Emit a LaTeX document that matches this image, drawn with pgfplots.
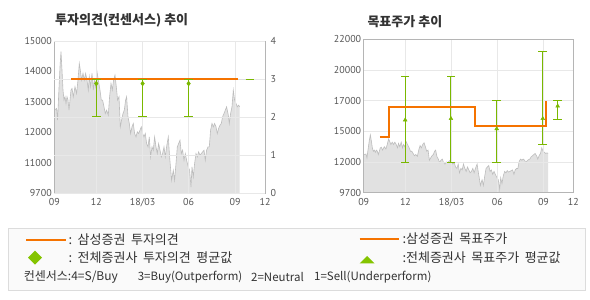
\documentclass[border=0pt]{standalone}
\usepackage{fontspec}
\setmainfont{Noto Sans CJK KR}
\newfontfamily\tickfont{PT Sans}
\usepackage{pgfplots}
\pgfplotsset{compat=1.18}
\usepackage{pgfplotstable}
\definecolor{orng}{HTML}{F57300}
\definecolor{grn}{HTML}{7AB800}
\definecolor{diamc}{HTML}{84C400}
\definecolor{framec}{HTML}{B5B5B5}
\definecolor{gridc}{HTML}{E8E8E8}
\definecolor{areaf}{HTML}{E1E1E1}
\definecolor{areal}{HTML}{BDBDBD}
\definecolor{txt}{HTML}{555555}
\definecolor{ttl}{HTML}{333333}
\definecolor{legbg}{HTML}{FAFAFA}
\definecolor{legbd}{HTML}{DCDCDC}
\definecolor{lgray}{HTML}{DDDDDD}
\newcommand\wsp{\hspace{5.5pt}}

\pgfplotstableread{
x p
0 12725
2.3 12780
3.3 12396
4.3 13165
5.7 14154
6.7 14648
7.7 14044
8.7 13385
9.7 13055
10.7 13165
11.7 12945
12.7 13165
13.7 13055
14.7 12725
15.7 13055
16.7 13385
17.7 13440
19 13165
20.7 13495
22.3 13275
23.7 13714
25 14264
26 14044
27.3 13714
28.7 13934
30 13714
31.3 13934
32.7 13714
34 13385
35 13824
36.3 13495
37.7 13934
39 13385
40 13714
41.3 13495
42.7 13989
44 13714
45.7 13385
47 13055
48.3 13055
49.7 12835
51 12615
52.3 12725
54 12560
55.3 13165
56.7 13604
58 13385
59.3 13714
60.7 13879
62 13495
63.3 13055
64.7 13165
66 12176
67.3 12396
68.7 12615
70 12725
71.3 13055
72.3 13165
73.7 12505
75 12286
76.3 11956
77.7 12176
79 12286
80.3 11956
81.7 11846
83 12011
84.3 11956
85.7 12066
87 12176
88.3 11956
89.7 11846
91 11956
92.3 11626
93.7 11516
95 11846
96.3 11187
97.7 11516
99 11407
100.3 11846
101.7 11516
103 11297
104.3 11626
105.7 11407
107 11187
108.3 11297
109.7 11516
111 11187
112.3 11516
114 11846
115.3 11187
116.3 10743
117.3 10243
119 10671
120.3 10243
121.7 10957
123 11516
124.3 11626
125.7 11736
127 11297
128.3 11407
129.7 11077
131 11297
132.3 11077
134 10814
135.3 10671
136.7 9957
137.7 10814
139 10386
140.3 10957
141.7 11297
143 11187
144.3 11352
145.7 11242
147 11297
148.3 11352
149.7 11407
151 11077
152.3 11407
153.7 11516
155 11516
156.3 12066
157.7 12286
159 12176
160.3 12286
161.7 12176
163 11956
164.3 12121
165.7 12231
167 12286
168.3 12505
169.7 12615
171 12725
172.3 12835
174 12560
175 12286
176.3 12615
177.7 12835
179 13385
180.3 13055
181.7 12945
183 12835
184.3 12890
185.3 12835
}\price

\pgfplotsset{
  frame/.style={scale only axis, anchor=south west,
    xmin=0, xmax=210.7,
    axis line style={framec, line width=0.8pt},
    major tick length=0pt,
    tick label style={font=\tickfont\fontsize{10}{11}\selectfont, color=txt},
    grid style={gridc, line width=0.8pt},
    xtick={0,42,88.3,134.3,180.7,210.7},
    xticklabels={09,12,18/03,06,09,12},
    xticklabel style={yshift=-2pt},
    yticklabel style={xshift=1pt},
  },
  lfilter/.style={y filter/.expression={y<11000 ? (y-9700)/1300 : (y-10000)/1000}},
  rfilter/.style={y filter/.expression={y<12000 ? (y-9700)/2300 : (y<15000 ? 1+(y-12000)/3000 : (y<17000 ? 2+(y-15000)/2000 : (y<20000 ? 3+(y-17000)/3000 : 4+(y-20000)/2000)))}},
  ebar/.style={grn, line width=1pt, mark=-, mark size=4.3pt, mark options={solid, grn, line width=1pt}},
}

\begin{document}
\begin{tikzpicture}[x=1pt,y=1pt]
\useasboundingbox (0,0) rectangle (590,300);
\fill[white] (0,0) rectangle (590,300);

% ---------- left chart: price ----------
\begin{axis}[frame, at={(54.3pt,107pt)}, width=210.7pt, height=152pt,
  ymin=0, ymax=5, axis on top, xmajorgrids,
  ytick={0,1,2,3,4,5}, yticklabels={9700,11000,12000,13000,14000,15000},
  lfilter]
\addplot[fill=areaf, draw=none] table[x=x,y=p]{\price} \closedcycle;
\addplot[areal, line width=0.6pt] table[x=x,y=p]{\price};
\end{axis}

% ---------- left chart: opinion ----------
\begin{axis}[frame, at={(54.3pt,107pt)}, width=210.7pt, height=152pt,
  ymin=0, ymax=4, axis x line=none, axis y line*=right,
  y axis line style={draw=none},
  ymajorgrids, ytick={0,1,2,3,4}, yticklabels={0,1,2,3,4},
  yticklabel style={xshift=1pt}]
\addplot[ebar] coordinates {(42,2) (42,3)};
\addplot[ebar] coordinates {(88.3,2) (88.3,3)};
\addplot[ebar] coordinates {(134.3,2) (134.3,3)};
\addplot[only marks, mark=diamond*, mark size=2.4pt, grn] coordinates {(42,2.88) (88.3,2.88) (134.3,2.88)};
\addplot[lgray, line width=1pt] coordinates {(183.3,3) (191.3,3)};
\addplot[grn, line width=1pt] coordinates {(191.3,3) (199.7,3)};
\addplot[orng, line width=2.2pt] coordinates {(16.7,3) (183.3,3)};
\end{axis}

% ---------- right chart: price ----------
\begin{axis}[frame, at={(363.7pt,107.3pt)}, width=209.6pt, height=153.4pt,
  ymin=0, ymax=5, axis on top, xmajorgrids, ymajorgrids,
  ytick={0,1,2,3,4,5}, yticklabels={9700,12000,15000,17000,20000,22000},
  rfilter]
\addplot[fill=areaf, draw=none] table[x=x,y=p]{\price} \closedcycle;
\addplot[areal, line width=0.6pt] table[x=x,y=p]{\price};
\end{axis}

% ---------- right chart: target prices ----------
\begin{axis}[frame, at={(363.7pt,107.3pt)}, width=209.6pt, height=153.4pt,
  ymin=0, ymax=5, hide axis, clip=false, rfilter]
\addplot[ebar] coordinates {(41.7,12000) (41.7,19350)};
\addplot[ebar] coordinates {(87.7,12000) (87.7,19350)};
\addplot[ebar] coordinates {(133.7,12000) (133.7,17000)};
\addplot[ebar] coordinates {(180,13730) (180,21200)};
\addplot[ebar] coordinates {(195,15780) (195,17000)};
\addplot[only marks, mark=triangle*, mark size=2.2pt, grn] coordinates {(41.7,15740) (87.7,15830) (133.7,15170) (180,15830) (195,16650)};
\addplot[orng, line width=2pt] coordinates {(16.3,14400) (25.3,14400) (25.3,16600) (111.7,16600) (111.7,15350) (183.3,15350) (183.3,17000)};
\end{axis}

% ---------- titles ----------
\node[anchor=west, inner sep=0, color=ttl, font=\bfseries\fontsize{13}{15}\selectfont] at (55,279.2) {투자의견(컨센서스) 추이};
\node[anchor=west, inner sep=0, color=ttl, font=\bfseries\fontsize{13}{15}\selectfont] at (367.3,278.7) {목표주가 추이};

% ---------- legend ----------
\draw[draw=legbd, fill=legbg, line width=0.8pt] (8.4,72) rectangle (585.6,10);
\begin{scope}[every node/.style={anchor=west, inner sep=0, color=ttl, font=\fontsize{13}{15}\selectfont}]
\draw[orng, line width=2pt] (26,60) -- (66,60);
\node at (68.4,60) {:\wsp 삼성증권\wsp 투자의견};
\fill[diamc] (35,49.3) -- (42,42.3) -- (35,35.3) -- (28,42.3) -- cycle;
\node at (68.4,42) {:\wsp 전체증권사\wsp 투자의견\wsp 평균값};
\draw[orng, line width=2pt] (359.7,61) -- (399.2,61);
\node at (402.3,61) {:삼성증권\wsp 목표주가};
\fill[diamc] (359.5,36.5) -- (374.5,36.5) -- (367,44) -- cycle;
\node at (402.3,42) {:전체증권사\wsp 목표주가\wsp 평균값};
\end{scope}
\begin{scope}[every node/.style={anchor=west, inner sep=0, color=ttl, font=\fontsize{11.5}{13}\selectfont}]
\node[font=\fontsize{12}{14}\selectfont] at (23.6,22.7) {컨센서스:4=S/Buy};
\node at (137.6,22.7) {3=Buy(Outperform)};
\node at (251,22.7) {2=Neutral};
\node at (314,22.7) {1=Sell(Underperform)};
\end{scope}
\end{tikzpicture}
\end{document}
